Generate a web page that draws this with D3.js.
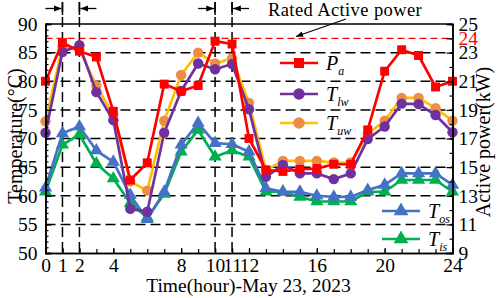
<!DOCTYPE html>
<html>
<head>
<meta charset="utf-8">
<script src="https://cdn.jsdelivr.net/npm/d3@7"></script>
<style>
  body { margin: 0; background: white; }
  svg { display: block; font-family: "Liberation Serif", "Times New Roman", serif; }
</style>
</head>
<body>
<svg id="chart" width="498" height="298"></svg>
<script>
const hours = d3.range(0, 25)
// active power (kW, right axis)
const Pa  = [21.0, 23.7, 23.1, 22.7, 18.9, 14.1, 15.3, 20.8, 20.3, 20.7, 23.8, 23.6, 17.0, 14.8, 14.7, 14.85, 14.9, 15.2, 15.2, 17.6, 21.7, 23.2, 22.8, 20.6, 21.0]
// temperatures (°C, left axis)
const Tlw = [71.0, 85.1, 86.3, 78.1, 73.2, 57.7, 57.2, 71.0, 78.3, 83.1, 82.1, 83.0, 75.1, 63.3, 65.4, 63.9, 63.9, 62.9, 63.9, 69.9, 72.1, 76.1, 76.0, 74.1, 71.1]
const Tuw = [73.0, 86.0, 85.5, 79.2, 74.1, 62.5, 60.9, 73.1, 81.1, 85.0, 83.1, 84.0, 76.2, 64.5, 66.1, 66.1, 66.1, 65.8, 65.8, 70.8, 73.1, 77.1, 77.1, 75.3, 73.1]
const Tos = [61.4, 70.9, 72.1, 67.9, 65.9, 60.1, 55.9, 60.7, 68.9, 72.7, 69.2, 69.0, 67.7, 61.3, 60.7, 60.7, 60.0, 59.8, 59.8, 61.0, 61.9, 63.9, 63.9, 63.9, 61.9]
const Tis = [60.7, 68.9, 70.7, 65.6, 63.0, 58.7, 56.2, 60.3, 67.7, 71.5, 66.8, 67.9, 66.8, 60.7, 60.7, 59.8, 59.0, 59.0, 59.0, 60.7, 60.7, 62.75, 62.75, 62.75, 60.7]

const xTickLabels = [0, 1, 2, 4, 8, 10, 11, 12, 16, 20, 24]
const leftTicks = d3.range(50, 91, 5)
const rightTicks = [9, 11, 13, 15, 17, 19, 21, 23, 24, 25]
const markedHours = [1, 2, 10, 11]
const ratedPower = 24

const svg = d3.select("#chart")
const pLeft = 45.5, pRight = 452.5, pTop = 24, pBottom = 253
const fontSize = 19.5

const x = d3.scaleLinear().domain([0, 24]).range([pLeft, pRight])
const yL = d3.scaleLinear().domain([50, 90]).range([pBottom, pTop])
const yR = d3.scaleLinear().domain([9, 25]).range([pBottom, pTop])

// horizontal dashed grid
svg.append("g").selectAll("line").data(d3.range(55, 90, 5)).join("line")
    .attr("x1", pLeft).attr("x2", pRight)
    .attr("y1", d => yL(d)).attr("y2", d => yL(d))
    .attr("stroke", "black").attr("stroke-width", 1.5)
    .attr("stroke-dasharray", "10,5")

// vertical dashed marks
svg.append("g").selectAll("line").data(markedHours).join("line")
    .attr("x1", d => x(d)).attr("x2", d => x(d))
    .attr("y1", 2).attr("y2", pBottom)
    .attr("stroke", "black").attr("stroke-width", 1.5)
    .attr("stroke-dasharray", "10,5")

// rated power line
svg.append("line")
    .attr("x1", pLeft).attr("x2", pRight)
    .attr("y1", yR(ratedPower)).attr("y2", yR(ratedPower))
    .attr("stroke", "red").attr("stroke-width", 1.2)
    .attr("stroke-dasharray", "7,4")

// top arrows  →|  |←
svg.append("defs").append("marker")
    .attr("id", "ah").attr("viewBox", "0 0 10 10")
    .attr("refX", 10).attr("refY", 5)
    .attr("markerWidth", 6).attr("markerHeight", 6)
    .attr("orient", "auto-start-reverse")
    .append("path").attr("d", "M0,1 L10,5 L0,9 Z").attr("fill", "black")

const arrowPairs = [[0, 1, 1], [2, 3, -1], [9, 10, 1], [11, 12, -1]]
arrowPairs.forEach(([a, b, dir]) => {
    const bar = dir > 0 ? x(b) : x(a)
    svg.append("line").attr("x1", bar).attr("x2", bar).attr("y1", 2).attr("y2", 15)
        .attr("stroke", "black").attr("stroke-width", 1.5)
    const from = dir > 0 ? x(a) : x(b)
    svg.append("line").attr("x1", from).attr("x2", bar - dir * 1)
        .attr("y1", 8.5).attr("y2", 8.5)
        .attr("stroke", "black").attr("stroke-width", 1.3)
        .attr("marker-end", "url(#ah)")
})

// annotation
svg.append("text").attr("x", 268).attr("y", 16)
    .attr("font-size", 18.5).attr("letter-spacing", 0.4).text("Rated Active power")
svg.append("line").attr("x1", 346).attr("y1", 19).attr("x2", 296).attr("y2", 36.5)
    .attr("stroke", "black").attr("stroke-width", 1.2)
    .attr("marker-end", "url(#ah)")

// series
const series = [
    {data: Tis, y: yL, line: "#00b050", fill: "#00b050", shape: d3.symbolTriangle, size: 75},
    {data: Tos, y: yL, line: "#4472c4", fill: "#4472c4", shape: d3.symbolTriangle, size: 75},
    {data: Tuw, y: yL, line: "#ffc000", fill: "#ed8c45", shape: d3.symbolCircle, size: 85},
    {data: Tlw, y: yL, line: "#7030a0", fill: "#7030a0", shape: d3.symbolCircle, size: 85},
    {data: Pa,  y: yR, line: "#ff0000", fill: "#ff0000", shape: d3.symbolSquare, size: 80}
]

series.forEach(s => {
    const g = svg.append("g")
    g.append("path").datum(s.data)
        .attr("fill", "none").attr("stroke", s.line).attr("stroke-width", 2.7)
        .attr("stroke-linejoin", "round")
        .attr("d", d3.line().x((d, i) => x(hours[i])).y(d => s.y(d)))
    g.selectAll("path.m").data(s.data).join("path").attr("class", "m")
        .attr("d", d3.symbol().type(s.shape).size(s.size))
        .attr("transform", (d, i) => `translate(${x(hours[i])},${s.y(d)})`)
        .attr("fill", s.fill)
})

// axes
const axL = svg.append("g").attr("transform", `translate(${pLeft},0)`)
    .call(d3.axisLeft(yL).tickValues(leftTicks).tickSize(-6).tickPadding(8))
axL.append("g").call(d3.axisLeft(yL).tickValues(d3.range(50, 91, 1)).tickSize(-3).tickFormat(""))

const axR = svg.append("g").attr("transform", `translate(${pRight},0)`)
    .call(d3.axisRight(yR).tickValues(rightTicks).tickSize(-6).tickPadding(6))
axR.append("g").call(d3.axisRight(yR).tickValues(d3.range(9, 26, 1)).tickSize(-3).tickFormat(""))
axR.selectAll(".tick text").filter(d => d === ratedPower).attr("fill", "red")

const axB = svg.append("g").attr("transform", `translate(0,${pBottom})`)
    .call(d3.axisBottom(x).tickValues(xTickLabels).tickSize(-5).tickPadding(5).tickFormat(d3.format("d")))
axB.append("g").call(d3.axisBottom(x).tickValues(hours).tickSize(-4).tickFormat(""))

svg.append("line").attr("x1", pLeft).attr("x2", pRight).attr("y1", pTop).attr("y2", pTop)
    .attr("stroke", "black").attr("stroke-width", 1.5)

svg.selectAll(".domain").attr("stroke-width", 1.5)
svg.selectAll(".tick line").attr("stroke-width", 1.2)
svg.selectAll(".tick text").attr("font-size", fontSize).attr("font-family", "Liberation Serif")

// axis titles
svg.append("text").attr("transform", `translate(22,${136}) rotate(-90)`)
    .attr("text-anchor", "middle").attr("font-size", 20).text("Temperature(°C)")
svg.append("text").attr("transform", `translate(490,${142}) rotate(-90)`)
    .attr("text-anchor", "middle").attr("font-size", 20).text("Active power(kW)")
svg.append("text").attr("x", 248.5).attr("y", 292)
    .attr("text-anchor", "middle").attr("font-size", fontSize).text("Time(hour)-May 23, 2023")

// legend
const legendItems = [
    {s: series[4], main: "P", sub: "a", lx: 280, ly: 63},
    {s: series[3], main: "T", sub: "lw", lx: 280, ly: 94},
    {s: series[2], main: "T", sub: "uw", lx: 280, ly: 123},
    {s: series[1], main: "T", sub: "os", lx: 382, ly: 211},
    {s: series[0], main: "T", sub: "is", lx: 382, ly: 239}
]
legendItems.forEach(it => {
    svg.append("line").attr("x1", it.lx).attr("x2", it.lx + 38)
        .attr("y1", it.ly).attr("y2", it.ly)
        .attr("stroke", it.s.line).attr("stroke-width", 2.7)
    svg.append("path").attr("d", d3.symbol().type(it.s.shape).size(it.s.size + 20))
        .attr("transform", `translate(${it.lx + 19},${it.ly})`).attr("fill", it.s.fill)
    const t = svg.append("text").attr("x", it.lx + 46).attr("y", it.ly + 7)
        .attr("font-size", 20).attr("font-style", "italic")
    t.append("tspan").text(it.main)
    t.append("tspan").attr("dy", 5).attr("font-size", 12).text(it.sub)
})
</script>
</body>
</html>
